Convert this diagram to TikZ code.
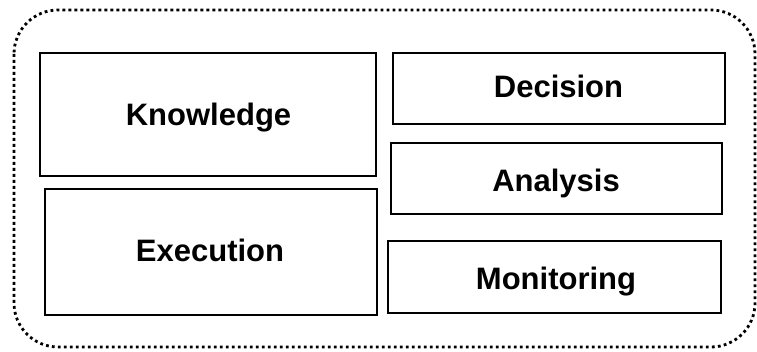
\documentclass[tikz,border=0pt]{standalone}
\usepackage{fontspec}
\setmainfont{Liberation Sans}
\begin{document}
\begin{tikzpicture}[x=1pt,y=-1pt,
  block/.style={draw=black, line width=2.6pt, fill=white},
  label/.style={font=\fontsize{31}{36}\selectfont\bfseries, inner sep=0pt, anchor=base},
  frame/.style={draw=black, line width=2.8pt, dash pattern=on 2.8pt off 3.2pt, rounded corners=44pt}]
  \useasboundingbox (0,0) rectangle (757,352);
  % dotted outer boundary
  \draw[frame] (14,10) rectangle (755,347);
  % component boxes, labels placed on their baselines
  \draw[block] (40,53) rectangle (376,176);
  \node[label] (knowledge) at (208.5,126) {Knowledge};
  \draw[block] (393,53) rectangle (725,124);
  \node[label] (decision) at (558.5,98) {Decision};
  \draw[block] (391,143) rectangle (722,214);
  \node[label] (analysis) at (556,192) {Analysis};
  \draw[block] (45,189) rectangle (377,315);
  \node[label] (execution) at (210,262) {Execution};
  \draw[block] (388,241) rectangle (721,313);
  \node[label] (monitoring) at (556,290) {Monitoring};
\end{tikzpicture}
\end{document}
